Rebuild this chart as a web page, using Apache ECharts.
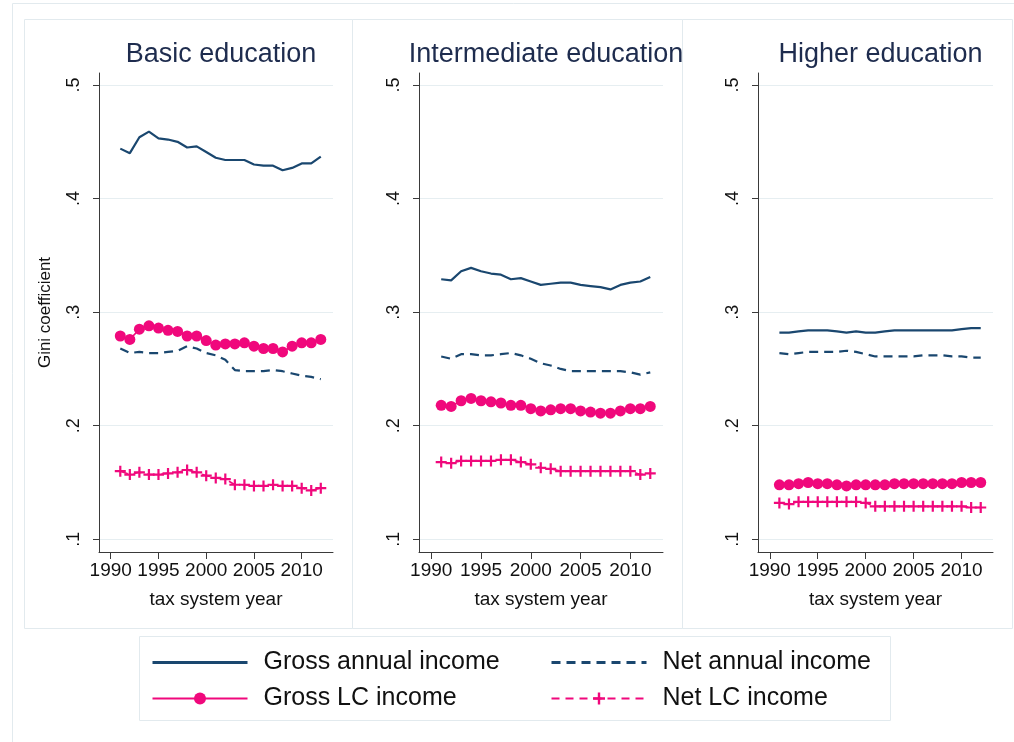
<!DOCTYPE html>
<html>
<head>
<meta charset="utf-8">
<script src="https://cdn.jsdelivr.net/npm/echarts@6.0.0/dist/echarts.min.js"></script>
<style>
html,body{margin:0;padding:0;background:#fff;}
#chart{width:1014px;height:742px;}
</style>
</head>
<body>
<div id="chart"></div>
<script>
// ---- data ----
var years = [1991,1992,1993,1994,1995,1996,1997,1998,1999,2000,2001,2002,2003,2004,2005,2006,2007,2008,2009,2010,2011,2012];
var panelTitles = ['Basic education', 'Intermediate education', 'Higher education'];
var seriesNames = ['Gross annual income', 'Net annual income', 'Gross LC income', 'Net LC income'];
var xTickValues = [1990, 1995, 2000, 2005, 2010];
var yTickValues = [0.1, 0.2, 0.3, 0.4, 0.5];

var basicGrossAnnual = [0.444,0.440,0.454,0.459,0.453,0.452,0.450,0.445,0.446,0.441,0.436,0.434,0.434,0.434,0.430,0.429,0.429,0.425,0.427,0.431,0.431,0.437];
var basicNetAnnual   = [0.268,0.264,0.265,0.264,0.264,0.265,0.266,0.270,0.268,0.264,0.262,0.258,0.249,0.248,0.248,0.248,0.249,0.248,0.246,0.244,0.243,0.241];
var basicGrossLC     = [0.279,0.276,0.285,0.288,0.286,0.284,0.283,0.279,0.279,0.275,0.271,0.272,0.272,0.273,0.270,0.268,0.268,0.265,0.270,0.273,0.273,0.276];
var basicNetLC       = [0.160,0.157,0.159,0.157,0.157,0.158,0.159,0.161,0.159,0.156,0.154,0.153,0.148,0.148,0.147,0.147,0.148,0.147,0.147,0.145,0.143,0.145];

var interGrossAnnual = [0.329,0.328,0.336,0.339,0.336,0.334,0.333,0.329,0.330,0.327,0.324,0.325,0.326,0.326,0.324,0.323,0.322,0.320,0.324,0.326,0.327,0.331];
var interNetAnnual   = [0.261,0.259,0.263,0.263,0.262,0.262,0.263,0.264,0.262,0.259,0.255,0.253,0.250,0.248,0.248,0.248,0.248,0.248,0.248,0.247,0.245,0.247];
var interGrossLC     = [0.218,0.217,0.222,0.224,0.222,0.221,0.220,0.218,0.218,0.215,0.213,0.214,0.215,0.215,0.213,0.212,0.211,0.211,0.213,0.215,0.215,0.217];
var interNetLC       = [0.168,0.167,0.169,0.169,0.169,0.169,0.170,0.170,0.168,0.166,0.163,0.162,0.160,0.160,0.160,0.160,0.160,0.160,0.160,0.160,0.157,0.158];

var higherGrossAnnual = [0.282,0.282,0.283,0.284,0.284,0.284,0.283,0.282,0.283,0.282,0.282,0.283,0.284,0.284,0.284,0.284,0.284,0.284,0.284,0.285,0.286,0.286];
var higherNetAnnual   = [0.264,0.263,0.264,0.265,0.265,0.265,0.265,0.266,0.265,0.263,0.261,0.261,0.261,0.261,0.261,0.262,0.262,0.262,0.261,0.261,0.260,0.260];
var higherGrossLC     = [0.148,0.148,0.149,0.150,0.149,0.149,0.148,0.147,0.148,0.148,0.148,0.148,0.149,0.149,0.149,0.149,0.149,0.149,0.149,0.150,0.150,0.150];
var higherNetLC       = [0.132,0.131,0.133,0.133,0.133,0.133,0.133,0.133,0.133,0.132,0.129,0.129,0.129,0.129,0.129,0.129,0.129,0.129,0.129,0.129,0.128,0.128];

var panelData = [
  [basicGrossAnnual, basicNetAnnual, basicGrossLC, basicNetLC],
  [interGrossAnnual, interNetAnnual, interGrossLC, interNetLC],
  [higherGrossAnnual, higherNetAnnual, higherGrossLC, higherNetLC]
];

// ---- styles / layout ----
var FONT = '"Liberation Sans", Arial, Helvetica, sans-serif';
var NAVY = '#1a476f';
var PINK = '#f0087c';
var AXIS = '#3a3a3a';
var GRIDC = '#e6eef1';
var FRAME = '#e2eaee';
var PLUS = 'path://M4,0 L6,0 L6,4 L10,4 L10,6 L6,6 L6,10 L4,10 L4,6 L0,6 L0,4 L4,4 Z';

var grids = [
  {left: 99, top: 73, width: 234, height: 479},
  {left: 419, top: 73, width: 244, height: 479},
  {left: 758, top: 73, width: 235, height: 479}
];

var chart = echarts.init(document.getElementById('chart'), null, {renderer: 'canvas'});

var xAxes = [], yAxes = [], series = [], titles = [];
grids.forEach(function (g, i) {
  g.outerBoundsMode = 'none';
  g.containLabel = false;
  titles.push({
    text: panelTitles[i],
    left: g.left + g.width / 2,
    top: 36,
    textAlign: 'center',
    textStyle: {fontFamily: FONT, fontSize: 27, fontWeight: 'normal', color: '#1e2c4e'}
  });
  xAxes.push({
    type: 'value', gridIndex: i, min: 1988.77, max: 2013.28,
    name: 'tax system year', nameLocation: 'middle', nameGap: 38,
    nameTextStyle: {fontFamily: FONT, fontSize: 19, color: '#111'},
    axisLine: {show: true, onZero: false, lineStyle: {color: AXIS, width: 1}},
    axisTick: {show: true, length: 7, customValues: xTickValues, lineStyle: {color: AXIS}},
    axisLabel: {
      customValues: xTickValues, fontFamily: FONT, fontSize: 19, color: '#111', margin: 9,
      formatter: function (v) { return String(Math.round(v)); }
    },
    splitLine: {show: false}
  });
  var ya = {
    type: 'value', gridIndex: i, min: 0.0888, max: 0.5106,
    axisLine: {show: true, onZero: false, lineStyle: {color: AXIS, width: 1}},
    axisTick: {show: true, length: 6, customValues: yTickValues, lineStyle: {color: AXIS}},
    axisLabel: {
      customValues: yTickValues, rotate: 90, fontFamily: FONT, fontSize: 18, color: '#111', margin: 16,
      formatter: function (v) { return (Math.round(v * 10) / 10).toFixed(1).replace(/^0/, ''); }
    },
    splitLine: {show: true, lineStyle: {color: GRIDC, width: 1}}
  };
  if (i === 0) {
    ya.name = 'Gini coefficient';
    ya.nameLocation = 'middle';
    ya.nameGap = 45;
    ya.nameTextStyle = {fontFamily: FONT, fontSize: 17, color: '#111'};
  }
  yAxes.push(ya);

  var d = panelData[i];
  function pts(arr) { return years.map(function (y, k) { return [y, arr[k]]; }); }
  series.push({
    name: seriesNames[0], type: 'line', xAxisIndex: i, yAxisIndex: i, data: pts(d[0]),
    symbol: 'none', showSymbol: false, color: NAVY,
    lineStyle: {color: NAVY, width: 2.2}, z: 3, animation: false
  });
  series.push({
    name: seriesNames[1], type: 'line', xAxisIndex: i, yAxisIndex: i, data: pts(d[1]),
    symbol: 'none', showSymbol: false, color: NAVY,
    lineStyle: {color: NAVY, width: 2.2, type: [9, 6]}, z: 3, animation: false
  });
  series.push({
    name: seriesNames[2], type: 'line', xAxisIndex: i, yAxisIndex: i, data: pts(d[2]),
    symbol: 'circle', symbolSize: 11, color: PINK,
    itemStyle: {color: PINK}, lineStyle: {color: PINK, width: 1.6}, z: 4, animation: false
  });
  series.push({
    name: seriesNames[3], type: 'line', xAxisIndex: i, yAxisIndex: i, data: pts(d[3]),
    symbol: PLUS, symbolSize: 11, color: PINK,
    itemStyle: {color: PINK}, lineStyle: {color: PINK, width: 1.6, type: [8, 6]}, z: 4, animation: false
  });
});

var legendCommon = {
  orient: 'vertical', top: 650, padding: 0, itemGap: 11,
  itemWidth: 95, itemHeight: 15, selectedMode: false,
  textStyle: {fontFamily: FONT, fontSize: 25, color: '#111', padding: [0, 0, 0, 11]}
};
var hiddenSymbol = {opacity: 0};

var option = {
  backgroundColor: '#fff',
  animation: false,
  title: titles,
  grid: grids,
  xAxis: xAxes,
  yAxis: yAxes,
  series: series,
  legend: [
    Object.assign({}, legendCommon, {left: 151, data: [{name: seriesNames[0], itemStyle: hiddenSymbol, lineStyle: {width: 3}}, {name: seriesNames[2]}]}),
    Object.assign({}, legendCommon, {left: 550, data: [{name: seriesNames[1], itemStyle: hiddenSymbol, lineStyle: {width: 3}}, {name: seriesNames[3]}]})
  ],
  graphic: [
    {type: 'rect', z: -10, silent: true, shape: {x: 12.5, y: 3.5, width: 1010, height: 745}, style: {fill: 'none', stroke: FRAME, lineWidth: 1}},
    {type: 'rect', z: -10, silent: true, shape: {x: 24.5, y: 19.5, width: 328, height: 609}, style: {fill: 'none', stroke: FRAME, lineWidth: 1}},
    {type: 'rect', z: -10, silent: true, shape: {x: 352.5, y: 19.5, width: 330, height: 609}, style: {fill: 'none', stroke: FRAME, lineWidth: 1}},
    {type: 'rect', z: -10, silent: true, shape: {x: 682.5, y: 19.5, width: 330, height: 609}, style: {fill: 'none', stroke: FRAME, lineWidth: 1}},
    {type: 'rect', z: -10, silent: true, shape: {x: 139.5, y: 636.5, width: 751, height: 84}, style: {fill: 'none', stroke: FRAME, lineWidth: 1}}
  ]
};
chart.setOption(option);
</script>
</body>
</html>
